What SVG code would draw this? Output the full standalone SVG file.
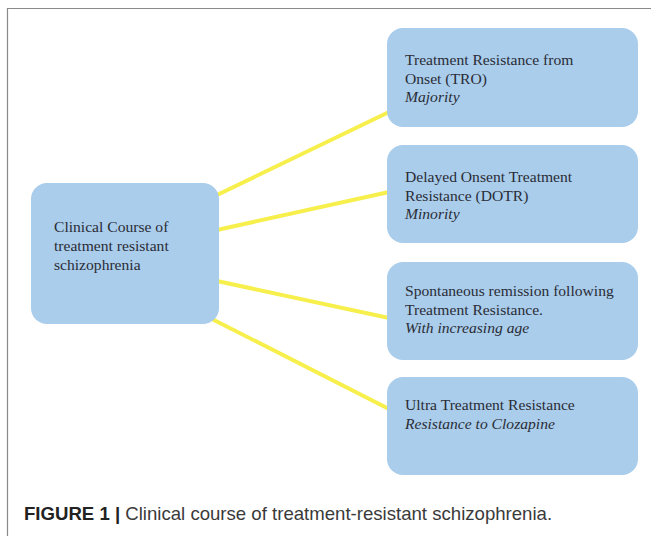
<svg xmlns="http://www.w3.org/2000/svg" width="651" height="536" viewBox="0 0 651 536">
<style>
.box{fill:#a9cdeb;}
.t{font-family:"Liberation Serif","Times New Roman",serif;font-size:15.6px;fill:#2b2c36;}
.i{font-style:italic;}
.conn line{stroke:#f6ef4c;stroke-width:4;stroke-linecap:butt;}
.cap{font-family:"Liberation Sans",Arial,sans-serif;font-size:18.6px;fill:#3a3a3a;}
</style>
<rect width="651" height="536" fill="#ffffff"/>
<path d="M7.5 536 V8.5 H651" fill="none" stroke="#8a8a8a" stroke-width="1.2"/>
<g id="connectors" class="conn">
<line x1="217" y1="195" x2="389" y2="112"/>
<line x1="217" y1="230" x2="389" y2="192"/>
<line x1="217" y1="281" x2="389" y2="318"/>
<line x1="212" y1="319" x2="389" y2="409"/>
</g>
<g id="root">
<rect class="box" x="31" y="183" width="188" height="141" rx="16"/>
<text class="t" x="54" y="232">Clinical Course of</text>
<text class="t" x="54" y="251">treatment resistant</text>
<text class="t" x="54" y="270">schizophrenia</text>
</g>
<g id="tro">
<rect class="box" x="387" y="28" width="251" height="99" rx="16"/>
<text class="t" x="405" y="65">Treatment Resistance from</text>
<text class="t" x="405" y="84">Onset (TRO)</text>
<text class="t i" x="405" y="102">Majority</text>
</g>
<g id="dotr">
<rect class="box" x="387" y="145" width="251" height="98" rx="16"/>
<text class="t" x="405" y="182">Delayed Onsent Treatment</text>
<text class="t" x="405" y="201">Resistance (DOTR)</text>
<text class="t i" x="405" y="219">Minority</text>
</g>
<g id="remission">
<rect class="box" x="387" y="262" width="251" height="98" rx="16"/>
<text class="t" x="405" y="296">Spontaneous remission following</text>
<text class="t" x="405" y="315">Treatment Resistance.</text>
<text class="t i" x="405" y="333">With increasing age</text>
</g>
<g id="ultra">
<rect class="box" x="387" y="377" width="251" height="98" rx="16"/>
<text class="t" x="405" y="410">Ultra Treatment Resistance</text>
<text class="t i" x="405" y="429">Resistance to Clozapine</text>
</g>
<text class="cap" x="24" y="520"><tspan font-weight="bold" fill="#222">FIGURE 1 |</tspan> Clinical course of treatment-resistant schizophrenia.</text>
</svg>
